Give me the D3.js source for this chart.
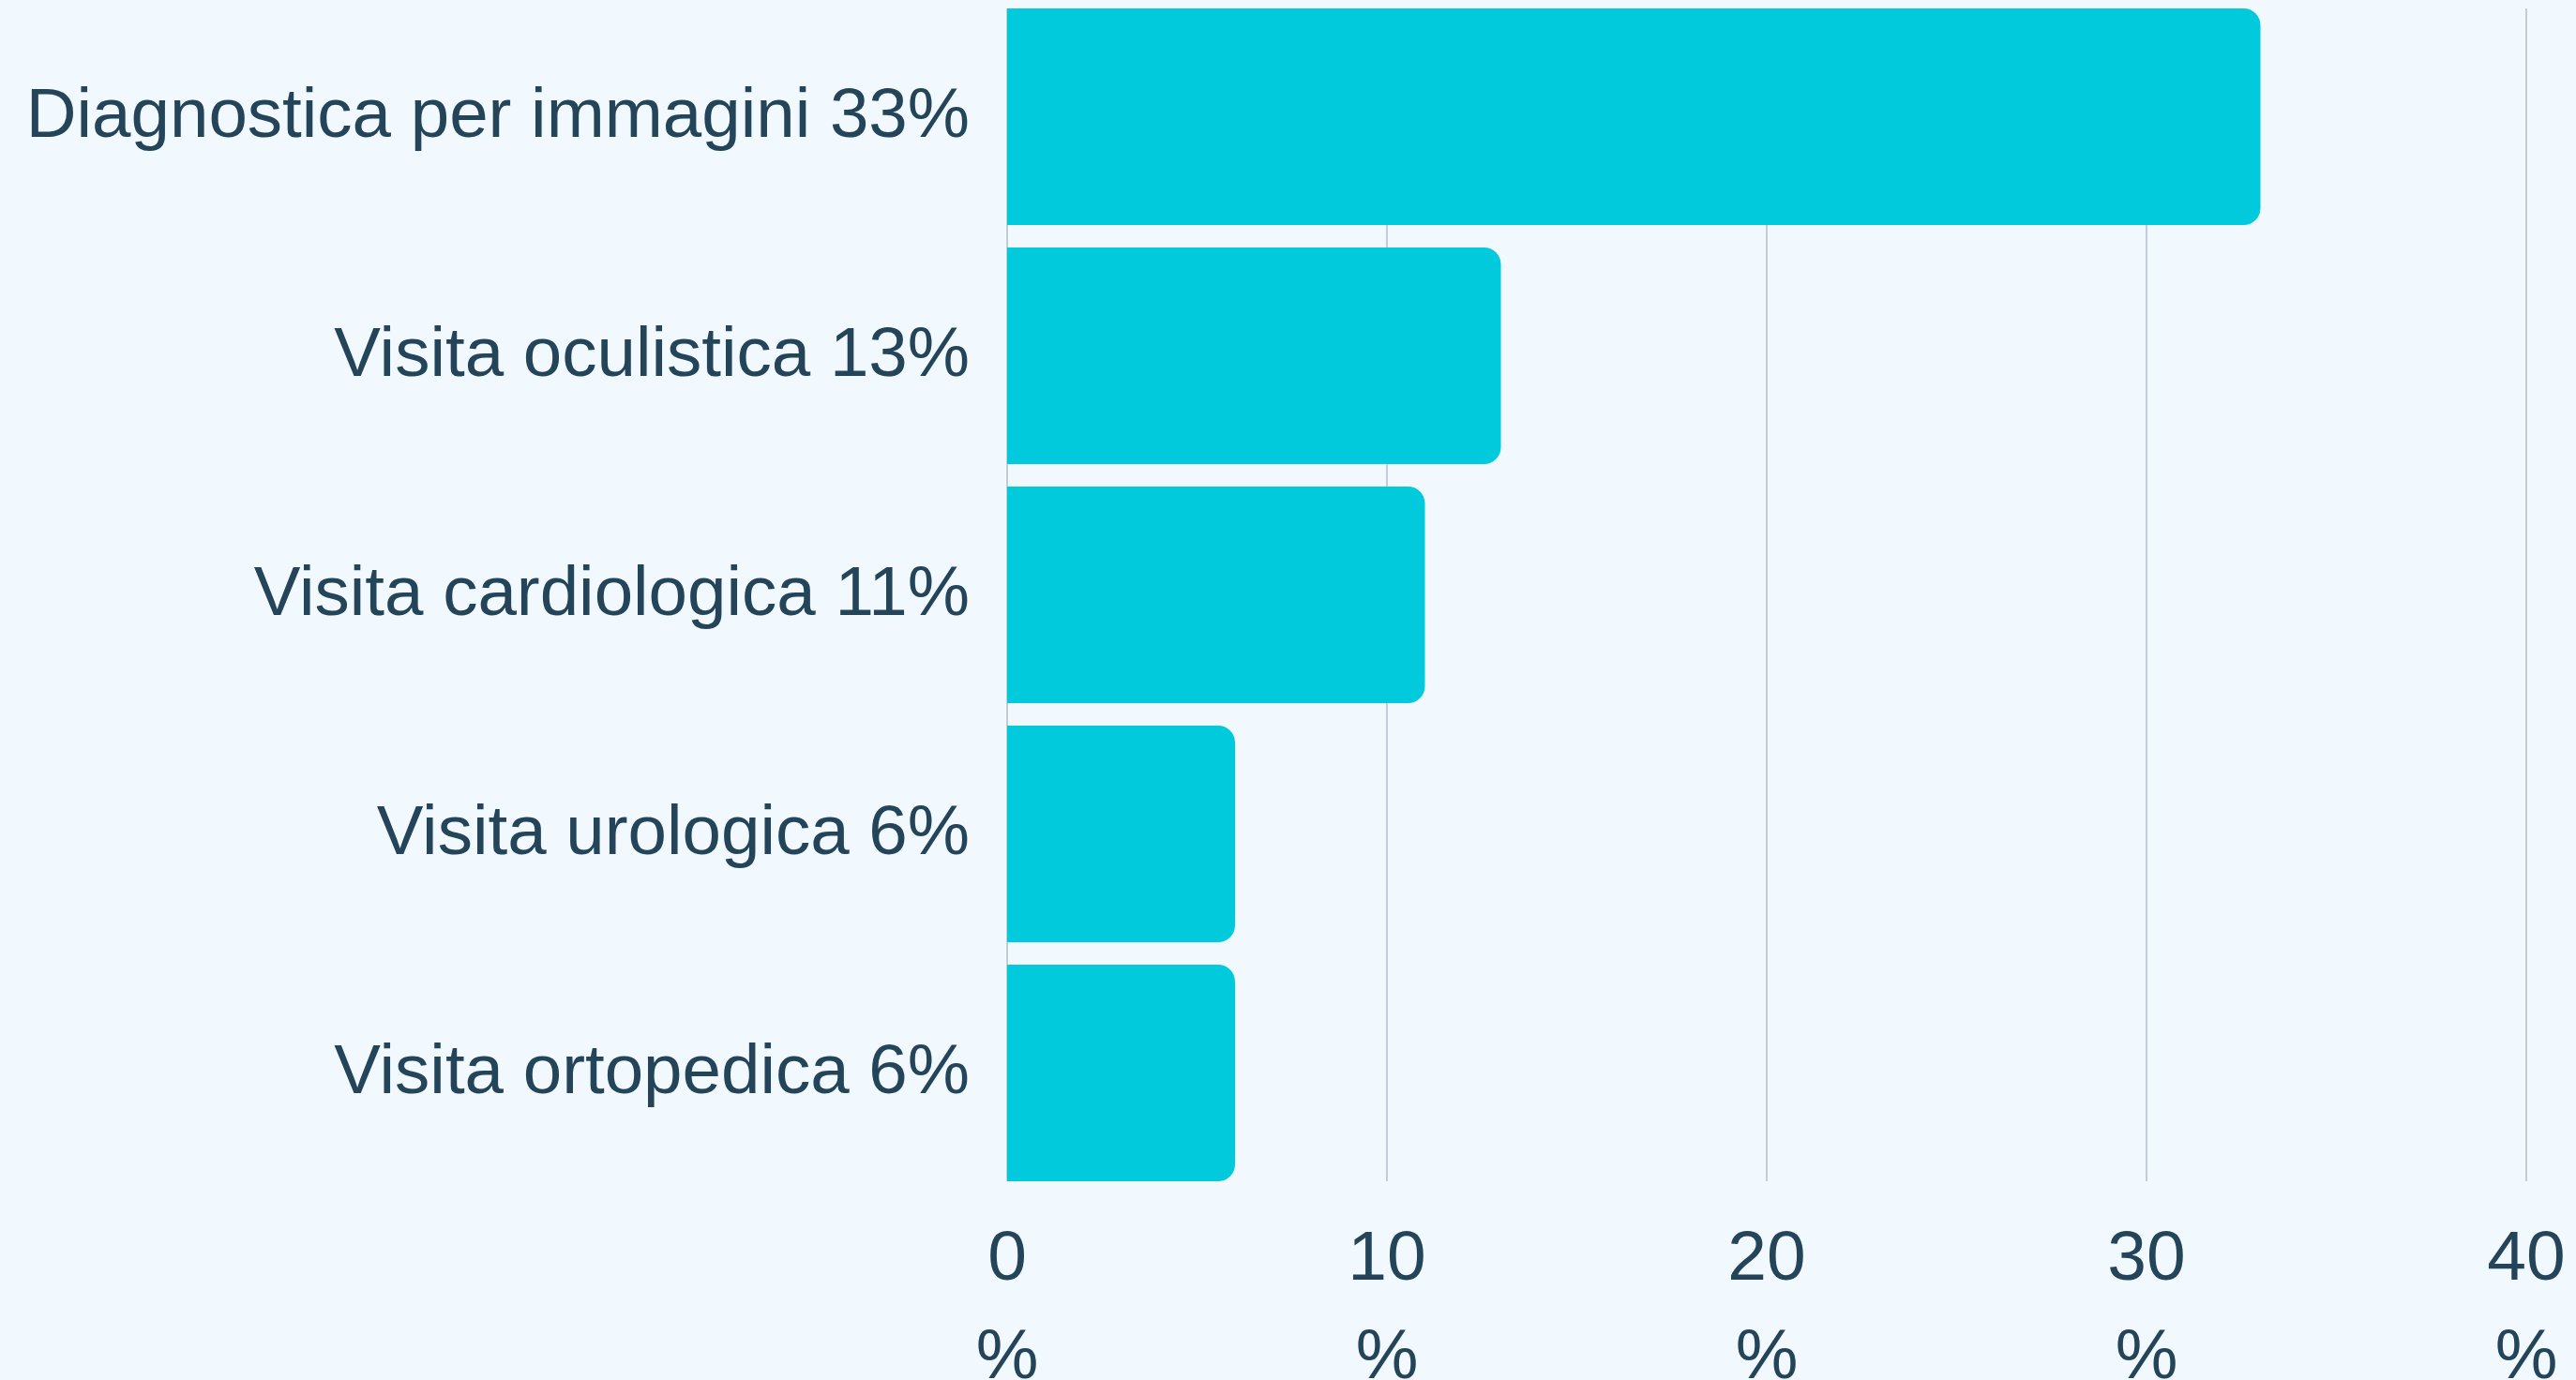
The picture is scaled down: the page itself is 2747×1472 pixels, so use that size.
<html>
<head>
<meta charset="utf-8">
<style type="text/css">
  body { margin: 0; background: #f1f8fe; }
  svg { display: block; }
</style>
</head>
<body>
<script src="https://d3js.org/d3.v7.min.js"></script>
<script>
  var categories = ["Diagnostica per immagini", "Visita oculistica", "Visita cardiologica", "Visita urologica", "Visita ortopedica"];
  var values = [33, 13, 11, 6, 6];
  var xTicks = [0, 10, 20, 30, 40];

  var W = 2747, H = 1472;
  var mLeft = 1074, mRight = 2694, mTop = 9, mBottom = 1260;

  var svg = d3.select("body").append("svg").attr("width", W).attr("height", H);
  svg.append("rect").attr("width", W).attr("height", H).attr("fill", "#f1f8fe");

  var x = d3.scaleLinear().domain([0, 40]).range([mLeft, mRight]);
  var y = d3.scaleBand().domain(categories).range([mTop, mBottom]).paddingInner(0.094).paddingOuter(0);

  // griglia verticale
  svg.selectAll("line.grid")
    .data(xTicks)
    .enter()
    .append("line")
    .attr("class", "grid")
    .attr("x1", function(d){ return x(d); })
    .attr("x2", function(d){ return x(d); })
    .attr("y1", mTop)
    .attr("y2", mBottom)
    .attr("stroke", "#c3cdd8")
    .attr("stroke-width", 2);

  var r = 18;
  function barPath(v, cat) {
    var x0 = x(0), x1 = x(v), y0 = y(cat), h = y.bandwidth();
    return "M" + x0 + "," + y0 +
      "H" + (x1 - r) +
      "A" + r + "," + r + " 0 0 1 " + x1 + "," + (y0 + r) +
      "V" + (y0 + h - r) +
      "A" + r + "," + r + " 0 0 1 " + (x1 - r) + "," + (y0 + h) +
      "H" + x0 + "Z";
  }

  svg.selectAll("path.bar")
    .data(values)
    .enter()
    .append("path")
    .attr("class", "bar")
    .attr("d", function(d, i){ return barPath(d, categories[i]); })
    .attr("fill", "#00cadc");

  // etichette categorie
  svg.selectAll("text.cat")
    .data(categories)
    .enter()
    .append("text")
    .attr("class", "cat")
    .attr("x", mLeft - 40)
    .attr("y", function(d){ return y(d) + y.bandwidth() / 2; })
    .attr("dy", "0.29em")
    .attr("text-anchor", "end")
    .attr("font-family", "'Liberation Sans', Arial, sans-serif")
    .attr("font-size", "74.5px")
    .attr("fill", "#234459")
    .text(function(d, i){ return d + " " + values[i] + "%"; });

  // etichette asse x, a capo prima del %
  var xl = svg.selectAll("text.tick")
    .data(xTicks)
    .enter()
    .append("text")
    .attr("class", "tick")
    .attr("text-anchor", "middle")
    .attr("font-family", "'Liberation Sans', Arial, sans-serif")
    .attr("font-size", "75px")
    .attr("fill", "#234459");
  xl.append("tspan")
    .attr("x", function(d){ return x(d); })
    .attr("y", 1365)
    .text(function(d){ return d; });
  xl.append("tspan")
    .attr("x", function(d){ return x(d); })
    .attr("y", 1470)
    .text("%");
</script>
</body>
</html>
